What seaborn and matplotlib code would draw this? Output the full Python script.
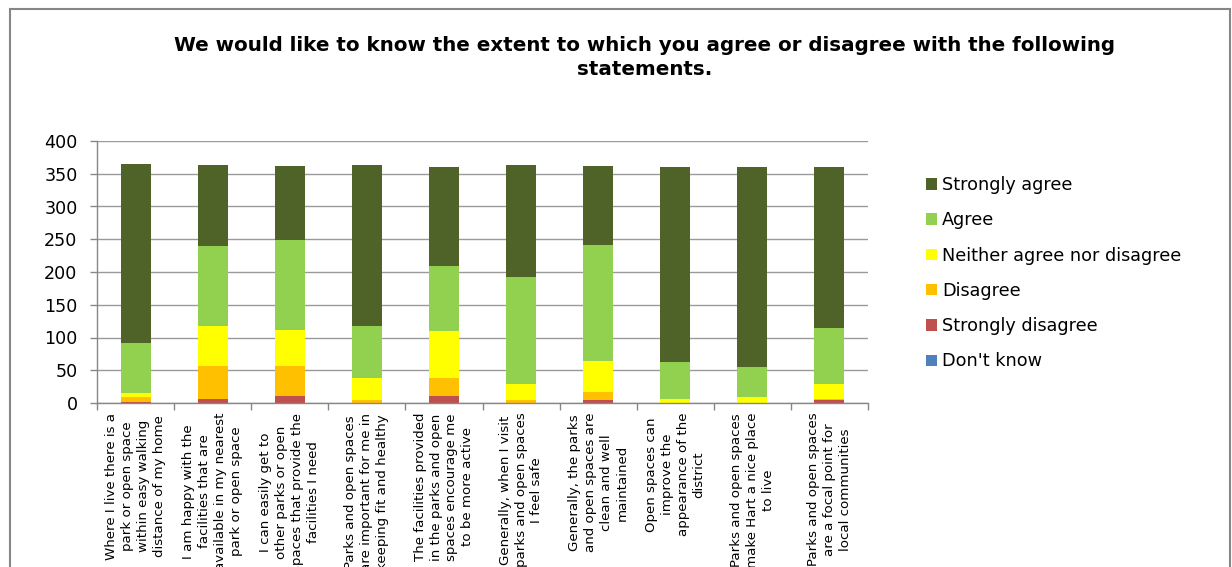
import numpy as np
import pandas as pd
import matplotlib
matplotlib.use("Agg")
import matplotlib.pyplot as plt
import seaborn as sns
from matplotlib.patches import Patch, Rectangle

# Survey statements (wrapped as they appear under each bar)
statements = [
    "Where I live there is a\npark or open space\nwithin easy walking\ndistance of my home",
    "I am happy with the\nfacilities that are\navailable in my nearest\npark or open space",
    "I can easily get to\nother parks or open\nspaces that provide the\nfacilities I need",
    "Parks and open spaces\nare important for me in\nkeeping fit and healthy",
    "The facilities provided\nin the parks and open\nspaces encourage me\nto be more active",
    "Generally, when I visit\nparks and open spaces\nI feel safe",
    "Generally, the parks\nand open spaces are\nclean and well\nmaintained",
    "Open spaces can\nimprove the\nappearance of the\ndistrict",
    "Parks and open spaces\nmake Hart a nice place\nto live",
    "Parks and open spaces\nare a focal point for\nlocal communities",
]

# Response counts per statement
dont_know         = [0, 0, 0, 0, 0, 0, 0, 0, 0, 0]
strongly_disagree = [2, 6, 10, 0, 10, 0, 4, 0, 0, 4]
disagree          = [7, 51, 47, 4, 28, 4, 13, 0, 0, 2]
neither           = [7, 60, 55, 34, 72, 25, 47, 6, 9, 23]
agree             = [75, 122, 137, 79, 99, 163, 177, 57, 46, 86]
strongly_agree    = [274, 125, 113, 247, 151, 171, 121, 297, 305, 245]

# Stack order, bottom to top
levels = ["Don't know", "Strongly disagree", "Disagree",
          "Neither agree nor disagree", "Agree", "Strongly agree"]
colors = {
    "Don't know": "#4F81BD",
    "Strongly disagree": "#C0504D",
    "Disagree": "#FFC000",
    "Neither agree nor disagree": "#FFFF00",
    "Agree": "#92D050",
    "Strongly agree": "#4F6228",
}

df = pd.DataFrame({
    "statement": statements,
    "Don't know": dont_know,
    "Strongly disagree": strongly_disagree,
    "Disagree": disagree,
    "Neither agree nor disagree": neither,
    "Agree": agree,
    "Strongly agree": strongly_agree,
})
cum = df[levels].cumsum(axis=1)

sns.set_theme(style="white")
plt.rcParams["font.family"] = ["DejaVu Sans"]
plt.rcParams["text.color"] = "black"
plt.rcParams["xtick.color"] = "black"
plt.rcParams["ytick.color"] = "black"

W, H = 1232, 567
fig, ax = plt.subplots(figsize=(W / 100, H / 100), dpi=100)
fig.subplots_adjust(left=97 / W, right=868 / W, bottom=1 - 403 / H, top=1 - 141 / H)

# Stacked bars: draw cumulative totals from the top segment down
for level in reversed(levels):
    sns.barplot(x=df["statement"], y=cum[level], color=colors[level],
                width=0.39, saturation=1, linewidth=0, errorbar=None, ax=ax)

grey = "#878787"
ax.set_ylim(0, 400)
ax.set_yticks(np.arange(0, 401, 50))
ax.yaxis.grid(True, color="#9a9a9a", linewidth=1)
ax.set_axisbelow(True)
ax.set_xlabel("")
ax.set_ylabel("")

for side in ("top", "right"):
    ax.spines[side].set_visible(False)
for side in ("left", "bottom"):
    ax.spines[side].set_color(grey)
    ax.spines[side].set_linewidth(1)

ax.tick_params(axis="y", which="major", left=True, length=5, width=1,
               color=grey, labelsize=12.6, pad=9, labelcolor="black")

ax.set_xticks(range(len(statements)))
ax.set_xticklabels(statements, rotation=90, ha="center", va="top",
                   multialignment="center", fontsize=9.6, linespacing=1.29,
                   color="black")
ax.tick_params(axis="x", which="major", length=0, pad=7)
ax.set_xticks(np.arange(-0.5, len(statements), 1), minor=True)
ax.tick_params(axis="x", which="minor", bottom=True, length=5, width=1,
               color=grey, direction="out")
ax.set_xlim(-0.5, len(statements) - 0.5)

# Legend, top entry first
handles = [Patch(facecolor=colors[l], edgecolor="none") for l in reversed(levels)]
fig.legend(handles, list(reversed(levels)), loc="upper left",
           bbox_to_anchor=(926 / W, 1 - 176 / H), frameon=False,
           fontsize=12.7, handlelength=0.62, handleheight=0.62,
           handletextpad=0.3, labelspacing=0.98, borderpad=0,
           borderaxespad=0, labelcolor="black")

fig.text(645 / W, 1 - 36 / H,
         "We would like to know the extent to which you agree or disagree with the following\nstatements.",
         ha="center", va="top", fontsize=14.3, fontweight="bold",
         multialignment="center", linespacing=1.32, color="black")

# Chart frame
fig.add_artist(Rectangle((10 / W, -0.05), 1220 / W, 1.05 - 9 / H,
                         transform=fig.transFigure, fill=False,
                         edgecolor="#868686", linewidth=1.5))

fig.savefig("out.png", dpi=100)
